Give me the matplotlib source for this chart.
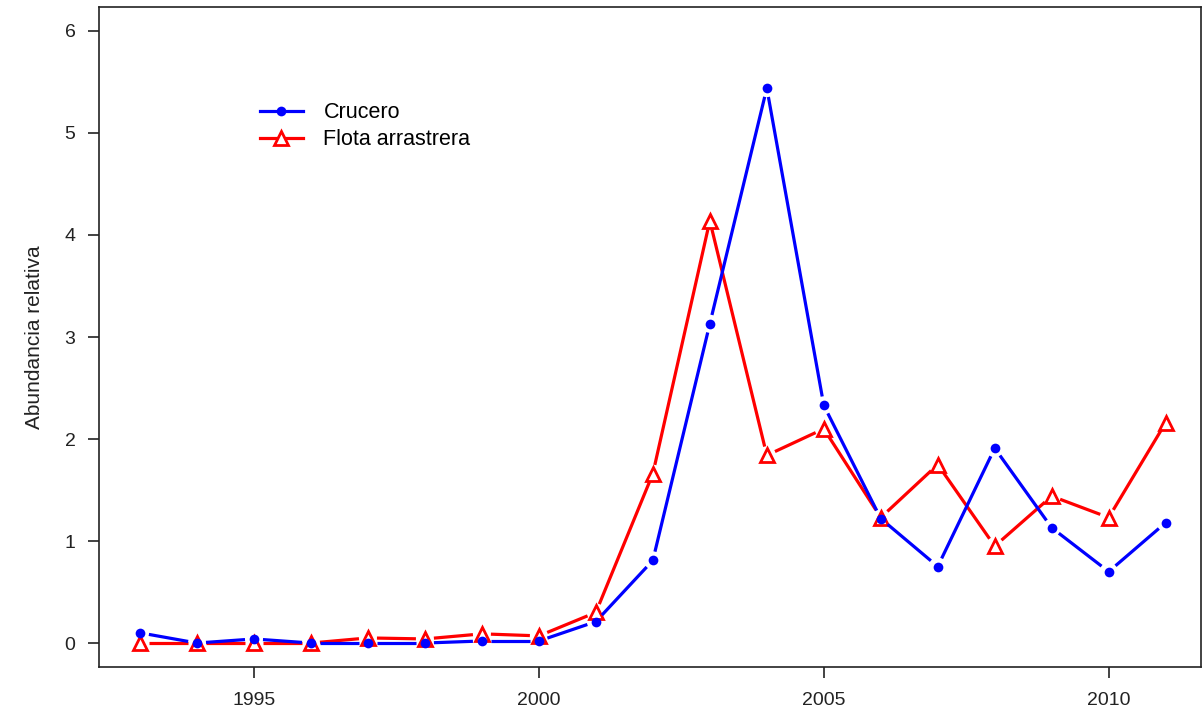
import matplotlib
matplotlib.use("Agg")
import matplotlib.pyplot as plt
import numpy as np

years = list(range(1993, 2012))
crucero = [0.10, 0.00, 0.04, 0.00, 0.00, 0.00, 0.02, 0.02, 0.21, 0.81, 3.13, 5.44,
           2.33, 1.22, 0.75, 1.91, 1.13, 0.70, 1.18]
flota = [0.00, 0.00, 0.00, 0.00, 0.05, 0.04, 0.09, 0.07, 0.30, 1.66, 4.14, 1.84,
         2.10, 1.23, 1.75, 0.95, 1.44, 1.23, 2.16]
xticks = [1995, 2000, 2005, 2010]
yticks = [0, 1, 2, 3, 4, 5, 6]
labels = ["Crucero", "Flota arrastrera"]

plt.rcParams['font.family'] = ['Liberation Sans', 'DejaVu Sans']

W, H = 1202, 713
fig = plt.figure(figsize=(W / 100, H / 100), dpi=100)
left, right, top, bottom = 99, 1201, 7, 667
ax = fig.add_axes([left / W, 1 - bottom / H, (right - left) / W, (bottom - top) / H])
ax.set_xlim(1992.28, 2011.62)
ax.set_ylim(-0.235, 6.235)

def type_b(ax, x, y, color, marker, ms, mfc, mew, gap=9, z=2):
    ax.plot(x, y, linestyle='none', marker=marker, ms=ms, mfc=mfc, mec=color, mew=mew,
            zorder=z + 0.5, clip_on=False)
    fig.canvas.draw()
    pts = ax.transData.transform(np.column_stack([x, y]))
    inv = ax.transData.inverted()
    for i in range(len(pts) - 1):
        p0, p1 = pts[i], pts[i + 1]
        d = p1 - p0
        L = np.hypot(*d)
        if L <= 2 * gap:
            continue
        u = d / L
        a = inv.transform(p0 + u * gap)
        b = inv.transform(p1 - u * gap)
        ax.plot([a[0], b[0]], [a[1], b[1]], color=color, lw=2.3, zorder=z,
                solid_capstyle='butt')

type_b(ax, years, flota, 'red', '^', 10, 'white', 2.0, z=2)
type_b(ax, years, crucero, 'blue', 'o', 7, 'blue', 0, z=3)

ax.set_xticks(xticks)
ax.set_xticklabels([str(t) for t in xticks])
ax.set_yticks(yticks)
ax.tick_params(axis='both', length=8, width=1.2, labelsize=14, colors='#222222', pad=9)
ax.tick_params(axis='x', pad=10)
for s in ax.spines.values():
    s.set_linewidth(1.2)
    s.set_color('#222222')
ax.set_ylabel("Abundancia relativa", fontsize=15, labelpad=15, color='#222222')

# legend
from matplotlib.lines import Line2D
h1 = Line2D([], [], color='blue', lw=2.3, marker='o', ms=7, mfc='blue', mew=0)
h2 = Line2D([], [], color='red', lw=2.3, marker='^', ms=10, mfc='white', mec='red', mew=2.0)
ax.legend([h1, h2], labels, loc='upper left', bbox_to_anchor=(0.146, 0.856),
          frameon=False, fontsize=15.5, handlelength=2.0, handletextpad=0.95,
          labelspacing=0.3, borderpad=0, borderaxespad=0)

fig.savefig("out.png", dpi=100)
